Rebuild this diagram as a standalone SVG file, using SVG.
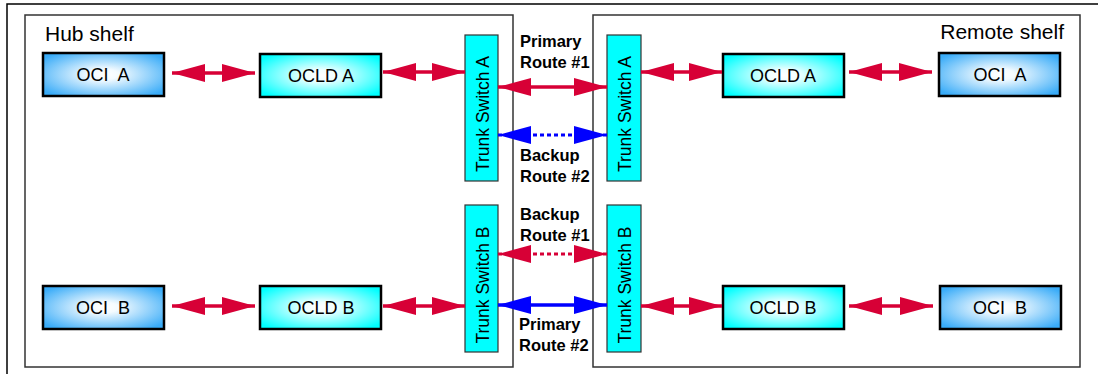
<svg xmlns="http://www.w3.org/2000/svg" width="1098" height="374" viewBox="0 0 1098 374">
  <defs>
    <radialGradient id="gOci" cx="50%" cy="50%" r="62%">
      <stop offset="0" stop-color="#ffffff"/>
      <stop offset="0.2" stop-color="#f4fbff"/>
      <stop offset="1" stop-color="#3aacf8"/>
    </radialGradient>
    <radialGradient id="gOcld" cx="50%" cy="50%" r="62%">
      <stop offset="0" stop-color="#ffffff"/>
      <stop offset="0.2" stop-color="#f2ffff"/>
      <stop offset="1" stop-color="#00ffff"/>
    </radialGradient>
    <marker id="headRed" viewBox="0 0 33 18" refX="33" refY="9" markerWidth="33" markerHeight="18" markerUnits="userSpaceOnUse" orient="auto-start-reverse">
      <path d="M0,0 L33,9 L0,18 Z" fill="#d70036"/>
    </marker>
    <marker id="headBlue" viewBox="0 0 33 18" refX="33" refY="9" markerWidth="33" markerHeight="18" markerUnits="userSpaceOnUse" orient="auto-start-reverse">
      <path d="M0,0 L33,9 L0,18 Z" fill="#0000ff"/>
    </marker>
    <style>
      .frame { fill: none; stroke: #000; stroke-width: 1.5; }
      .shelf { fill: #fff; stroke: #333; stroke-width: 1.5; }
      .shelfLabel { font-family: "Liberation Sans", Arial, sans-serif; font-size: 21px; fill: #000; }
      .oci { fill: url(#gOci); stroke: #000; stroke-width: 2.5; }
      .ocld { fill: url(#gOcld); stroke: #000; stroke-width: 2.5; }
      .trunk { fill: #00ffff; stroke: #333; stroke-width: 1.2; }
      .boxLabel { font-family: "Liberation Sans", Arial, sans-serif; font-size: 18px; fill: #000; text-anchor: middle; white-space: pre; }
      .trunkLabel { font-family: "Liberation Sans", Arial, sans-serif; font-size: 17.5px; fill: #000; text-anchor: middle; }
      .routeLabel { font-family: "Liberation Sans", Arial, sans-serif; font-size: 16.5px; font-weight: bold; fill: #000; }
      .red { fill: none; stroke: #d70036; stroke-width: 3.5; marker-start: url(#headRed); marker-end: url(#headRed); }
      .blue { fill: none; stroke: #0000ff; stroke-width: 3.5; marker-start: url(#headBlue); marker-end: url(#headBlue); }
      .dotted { stroke-width: 3; stroke-dasharray: 4 3; }
    </style>
  </defs>

  <rect width="1098" height="374" fill="#fff"/>

  <!-- page frame -->
  <path class="frame" d="M1098,4 H7 V374"/>

  <!-- shelves -->
  <g id="hub-shelf">
    <rect class="shelf" x="25" y="15" width="488" height="352"/>
    <text class="shelfLabel" x="45" y="41">Hub shelf</text>
  </g>
  <g id="remote-shelf">
    <rect class="shelf" x="593" y="15" width="487" height="352"/>
    <text class="shelfLabel" x="1064" y="39" text-anchor="end">Remote shelf</text>
  </g>

  <!-- hub shelf, row A -->
  <g id="hub-oci-a">
    <rect class="oci" x="43" y="53" width="121" height="43"/>
    <text class="boxLabel" x="103" y="81">OCI  A</text>
  </g>
  <g id="hub-ocld-a">
    <rect class="ocld" x="260" y="54" width="121" height="43"/>
    <text class="boxLabel" x="321" y="82">OCLD A</text>
  </g>
  <g id="hub-trunk-a">
    <rect class="trunk" x="465" y="35" width="33" height="146"/>
    <text class="trunkLabel" transform="translate(489,114) rotate(-90)">Trunk Switch A</text>
  </g>

  <!-- hub shelf, row B -->
  <g id="hub-oci-b">
    <rect class="oci" x="43" y="286" width="121" height="43"/>
    <text class="boxLabel" x="103" y="314">OCI  B</text>
  </g>
  <g id="hub-ocld-b">
    <rect class="ocld" x="260" y="286" width="121" height="43"/>
    <text class="boxLabel" x="321" y="314">OCLD B</text>
  </g>
  <g id="hub-trunk-b">
    <rect class="trunk" x="465" y="205" width="33" height="147"/>
    <text class="trunkLabel" transform="translate(489,285) rotate(-90)">Trunk Switch B</text>
  </g>

  <!-- remote shelf, row A -->
  <g id="remote-trunk-a">
    <rect class="trunk" x="607" y="35" width="34" height="146"/>
    <text class="trunkLabel" transform="translate(631,114) rotate(-90)">Trunk Switch A</text>
  </g>
  <g id="remote-ocld-a">
    <rect class="ocld" x="723" y="54" width="121" height="43"/>
    <text class="boxLabel" x="783" y="82">OCLD A</text>
  </g>
  <g id="remote-oci-a">
    <rect class="oci" x="939" y="53" width="121" height="43"/>
    <text class="boxLabel" x="1000" y="81">OCI  A</text>
  </g>

  <!-- remote shelf, row B -->
  <g id="remote-trunk-b">
    <rect class="trunk" x="607" y="205" width="34" height="147"/>
    <text class="trunkLabel" transform="translate(631,285) rotate(-90)">Trunk Switch B</text>
  </g>
  <g id="remote-ocld-b">
    <rect class="ocld" x="723" y="286" width="121" height="43"/>
    <text class="boxLabel" x="783" y="314">OCLD B</text>
  </g>
  <g id="remote-oci-b">
    <rect class="oci" x="940" y="286" width="121" height="43"/>
    <text class="boxLabel" x="1000" y="314">OCI  B</text>
  </g>

  <!-- route labels -->
  <g id="route-labels">
    <text class="routeLabel" x="520" y="47">Primary</text>
    <text class="routeLabel" x="520" y="68">Route #1</text>
    <text class="routeLabel" x="520" y="161">Backup</text>
    <text class="routeLabel" x="520" y="182">Route #2</text>
    <text class="routeLabel" x="520" y="220">Backup</text>
    <text class="routeLabel" x="520" y="241">Route #1</text>
    <text class="routeLabel" x="519" y="330">Primary</text>
    <text class="routeLabel" x="519" y="351">Route #2</text>
  </g>

  <!-- connectors -->
  <g id="connectors">
    <!-- row A -->
    <path class="red" d="M172,73 H255"/>
    <path class="red" d="M383,72 H465"/>
    <path class="red" d="M641,72 H722"/>
    <path class="red" d="M849,72 H932"/>
    <!-- trunk routes -->
    <path class="red" d="M498,87 H607"/>
    <path class="blue dotted" d="M498,135 H607"/>
    <path class="red dotted" d="M498,254 H607"/>
    <path class="blue" d="M498,305 H607"/>
    <!-- row B -->
    <path class="red" d="M172,306 H255"/>
    <path class="red" d="M383,306 H465"/>
    <path class="red" d="M641,306 H722"/>
    <path class="red" d="M849,306 H933"/>
  </g>
</svg>
